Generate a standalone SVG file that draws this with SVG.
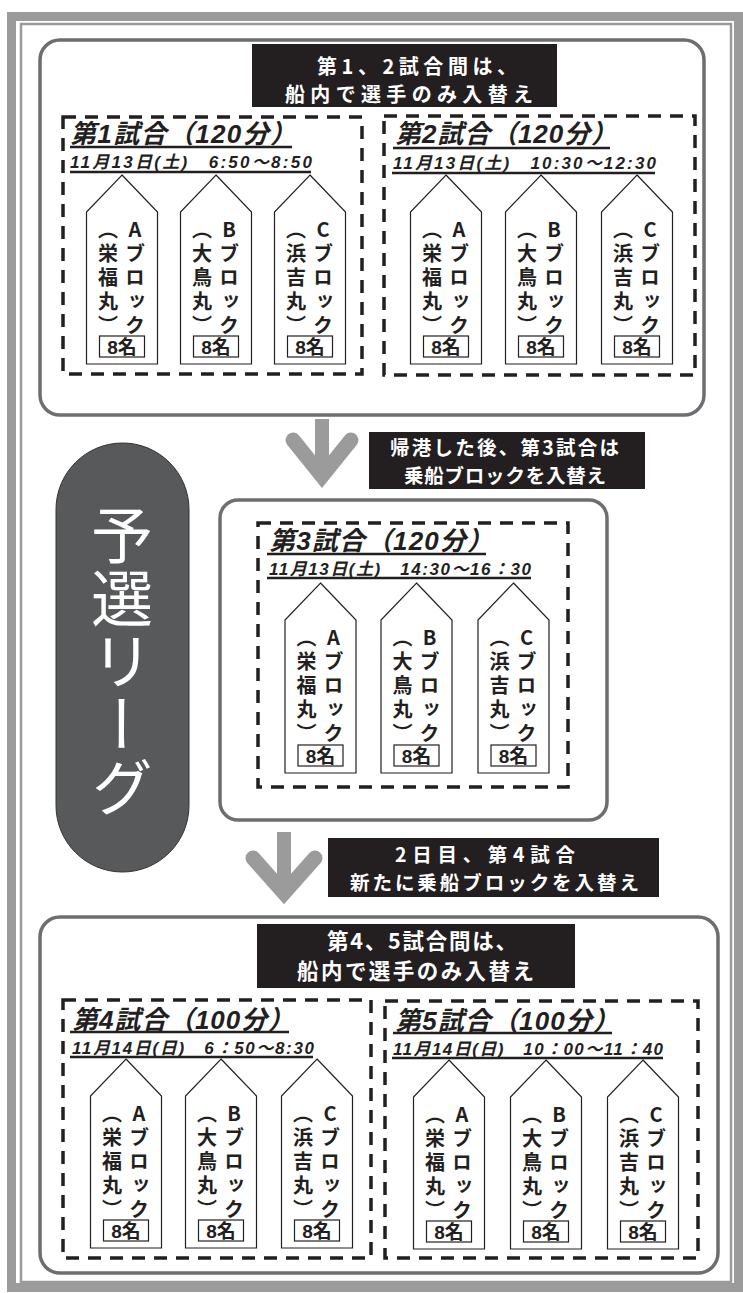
<svg xmlns="http://www.w3.org/2000/svg" width="743" height="1293" viewBox="0 0 743 1293">
<style>
.fr1{fill:none;stroke:#9b9b9b;stroke-width:9}
.fr2{fill:none;stroke:#9b9b9b;stroke-width:2.5}
.panel{fill:#fff;stroke:#6d6e71;stroke-width:3.5}
.lbl{fill:#231f20}
.lt{fill:#fff;font-family:"Noto Sans CJK JP",sans-serif;font-weight:700}
.game{fill:none;stroke:#231f20;stroke-width:3.5;stroke-dasharray:13 9}
.ttl{fill:#231f20;font-family:"Liberation Sans","Noto Sans CJK JP",sans-serif;font-weight:700;font-style:italic;font-size:26px}
.dt{fill:#231f20;font-family:"Liberation Sans","Noto Sans CJK JP",sans-serif;font-weight:700;font-style:italic;font-size:17px}
.ul{stroke:#231f20;stroke-width:2.4}
.sh{fill:#fff;stroke:#231f20;stroke-width:1.2}
.col{fill:#231f20;font-family:"Noto Sans CJK JP",sans-serif;font-weight:700;font-size:20px;writing-mode:vertical-rl;text-orientation:upright;letter-spacing:4px}
.cb{fill:#fff;stroke:#231f20;stroke-width:1.2}
.cn{fill:#231f20;font-family:"Liberation Sans","Noto Sans CJK JP",sans-serif;font-weight:700;font-size:19px;text-anchor:middle}
.arr{fill:none;stroke:#9b9b9b;stroke-width:15;stroke-linejoin:miter;stroke-linecap:round}
.stem{fill:none;stroke:#9b9b9b;stroke-width:14;stroke-linecap:butt}
</style>
<rect width="743" height="1293" fill="#fff"/>
<g id="frame">
<rect class="fr1" x="11.5" y="16.5" width="727" height="1271"/>
<rect class="fr2" x="21" y="24" width="710" height="1258"/>
</g>
<g id="pill">
<rect x="56" y="443" width="133" height="429" rx="66.5" fill="#58595b" stroke="#333" stroke-width="1"/>
<text x="122" y="504" fill="#fff" font-family="Noto Sans CJK JP, sans-serif" font-size="62" letter-spacing="1" style="writing-mode:vertical-rl">予選リーグ</text>
</g>
<g id="panel-day1">
<rect class="panel" x="40" y="40" width="664" height="375" rx="20"/>
</g>
<g id="panel-game3">
<rect class="panel" x="220" y="500" width="387" height="320" rx="18"/>
</g>
<g id="panel-day2">
<rect class="panel" x="40" y="917" width="678" height="356" rx="20"/>
</g>
<g id="connectors">
<g id="arrow-1"><path class="stem" d="M322 419 V478"/><path class="arr" d="M293 440 L322 476 L351 440"/></g>
<g id="arrow-2"><path class="stem" d="M284 832 V895"/><path class="arr" d="M253 858 L284 893 L315 858"/></g>
</g>
<g id="label-1">
<rect class="lbl" x="252" y="44" width="305" height="63"/>
<text class="lt" x="317" y="73.5" font-size="20" textLength="200">第1、2試合間は、</text>
<text class="lt" x="285" y="101.5" font-size="20" textLength="248">船内で選手のみ入替え</text>
</g>
<g id="label-2">
<rect class="lbl" x="369" y="432" width="276" height="57"/>
<text class="lt" x="390" y="455" font-size="19.5" textLength="229">帰港した後、第3試合は</text>
<text class="lt" x="404" y="482.5" font-size="19.5" textLength="202">乗船ブロックを入替え</text>
</g>
<g id="label-3">
<rect class="lbl" x="328" y="838" width="331" height="59"/>
<text class="lt" x="395" y="862" font-size="19.5" textLength="180">2日目、第4試合</text>
<text class="lt" x="350" y="889.5" font-size="19.5" textLength="289">新たに乗船ブロックを入替え</text>
</g>
<g id="label-4">
<rect class="lbl" x="257" y="924" width="318" height="64"/>
<text class="lt" x="327" y="948.5" font-size="21.5" textLength="190">第4、5試合間は、</text>
<text class="lt" x="297" y="979" font-size="21.5" textLength="237">船内で選手のみ入替え</text>
</g>
<g id="game-1">
<rect class="game" x="63" y="117" width="299" height="257"/>
<text class="ttl" x="70" y="143" textLength="226">第1試合（120分）</text>
<line class="ul" x1="70" y1="147" x2="292" y2="147"/>
<text class="dt" x="70" y="168" textLength="242">11月13日(土)　6:50〜8:50</text>
<line class="ul" x1="70" y1="172" x2="311" y2="172"/>
<g id="g1-a"><polygon class="sh" points="122,175 157.5,212 157.5,364 86.5,364 86.5,212"/><text class="col" x="135" y="219">Aブロック</text><text class="col" x="108" y="219">（栄福丸）</text><rect class="cb" x="99.5" y="336" width="45" height="21"/><text class="cn" x="122" y="353.5">8名</text></g>
<g id="g1-b"><polygon class="sh" points="216,175 251.5,212 251.5,364 180.5,364 180.5,212"/><text class="col" x="229" y="219">Bブロック</text><text class="col" x="202" y="219">（大鳥丸）</text><rect class="cb" x="193.5" y="336" width="45" height="21"/><text class="cn" x="216" y="353.5">8名</text></g>
<g id="g1-c"><polygon class="sh" points="310,175 345.5,212 345.5,364 274.5,364 274.5,212"/><text class="col" x="323" y="219">Cブロック</text><text class="col" x="296" y="219">（浜吉丸）</text><rect class="cb" x="287.5" y="336" width="45" height="21"/><text class="cn" x="310" y="353.5">8名</text></g>
</g>
<g id="game-2">
<rect class="game" x="384" y="116" width="311" height="259"/>
<text class="ttl" x="395" y="143" textLength="222">第2試合（120分）</text>
<line class="ul" x1="393" y1="148" x2="610" y2="148"/>
<text class="dt" x="393" y="169" textLength="263">11月13日(土)　10:30〜12:30</text>
<line class="ul" x1="392" y1="173" x2="655" y2="173"/>
<g id="g2-a"><polygon class="sh" points="446,175 481.5,212 481.5,364 410.5,364 410.5,212"/><text class="col" x="459" y="219">Aブロック</text><text class="col" x="432" y="219">（栄福丸）</text><rect class="cb" x="423.5" y="336" width="45" height="21"/><text class="cn" x="446" y="353.5">8名</text></g>
<g id="g2-b"><polygon class="sh" points="541,175 576.5,212 576.5,364 505.5,364 505.5,212"/><text class="col" x="554" y="219">Bブロック</text><text class="col" x="527" y="219">（大鳥丸）</text><rect class="cb" x="518.5" y="336" width="45" height="21"/><text class="cn" x="541" y="353.5">8名</text></g>
<g id="g2-c"><polygon class="sh" points="637,175 672.5,212 672.5,364 601.5,364 601.5,212"/><text class="col" x="650" y="219">Cブロック</text><text class="col" x="623" y="219">（浜吉丸）</text><rect class="cb" x="614.5" y="336" width="45" height="21"/><text class="cn" x="637" y="353.5">8名</text></g>
</g>
<g id="game-3">
<rect class="game" x="258" y="523" width="310" height="264"/>
<text class="ttl" x="269" y="550" textLength="224">第3試合（120分）</text>
<line class="ul" x1="267" y1="554" x2="486" y2="554"/>
<text class="dt" x="269" y="575" textLength="262">11月13日(土)　14:30〜16：30</text>
<line class="ul" x1="267" y1="578" x2="531" y2="578"/>
<g id="g3-a"><polygon class="sh" points="320.5,583 356,620 356,773 285,773 285,620"/><text class="col" x="333.5" y="627">Aブロック</text><text class="col" x="306.5" y="627">（栄福丸）</text><rect class="cb" x="298" y="745" width="45" height="21"/><text class="cn" x="320.5" y="762.5">8名</text></g>
<g id="g3-b"><polygon class="sh" points="416.5,583 452,620 452,773 381,773 381,620"/><text class="col" x="429.5" y="627">Bブロック</text><text class="col" x="402.5" y="627">（大鳥丸）</text><rect class="cb" x="394" y="745" width="45" height="21"/><text class="cn" x="416.5" y="762.5">8名</text></g>
<g id="g3-c"><polygon class="sh" points="513.5,583 549,620 549,773 478,773 478,620"/><text class="col" x="526.5" y="627">Cブロック</text><text class="col" x="499.5" y="627">（浜吉丸）</text><rect class="cb" x="491" y="745" width="45" height="21"/><text class="cn" x="513.5" y="762.5">8名</text></g>
</g>
<g id="game-4">
<rect class="game" x="63" y="1000" width="308" height="258"/>
<text class="ttl" x="72" y="1029" textLength="222">第4試合（100分）</text>
<line class="ul" x1="70" y1="1032" x2="289" y2="1032"/>
<text class="dt" x="72" y="1054" textLength="242">11月14日(日)　6：50〜8:30</text>
<line class="ul" x1="70" y1="1057" x2="313" y2="1057"/>
<g id="g4-a"><polygon class="sh" points="126,1059 161.5,1096 161.5,1248 90.5,1248 90.5,1096"/><text class="col" x="139" y="1103">Aブロック</text><text class="col" x="112" y="1103">（栄福丸）</text><rect class="cb" x="103.5" y="1220" width="45" height="21"/><text class="cn" x="126" y="1237.5">8名</text></g>
<g id="g4-b"><polygon class="sh" points="221,1059 256.5,1096 256.5,1248 185.5,1248 185.5,1096"/><text class="col" x="234" y="1103">Bブロック</text><text class="col" x="207" y="1103">（大鳥丸）</text><rect class="cb" x="198.5" y="1220" width="45" height="21"/><text class="cn" x="221" y="1237.5">8名</text></g>
<g id="g4-c"><polygon class="sh" points="317,1059 352.5,1096 352.5,1248 281.5,1248 281.5,1096"/><text class="col" x="330" y="1103">Cブロック</text><text class="col" x="303" y="1103">（浜吉丸）</text><rect class="cb" x="294.5" y="1220" width="45" height="21"/><text class="cn" x="317" y="1237.5">8名</text></g>
</g>
<g id="game-5">
<rect class="game" x="385" y="1001" width="313" height="257"/>
<text class="ttl" x="395" y="1030" textLength="224">第5試合（100分）</text>
<line class="ul" x1="393" y1="1033" x2="612" y2="1033"/>
<text class="dt" x="393" y="1055" textLength="270">11月14日(日)　10：00〜11：40</text>
<line class="ul" x1="392" y1="1058" x2="663" y2="1058"/>
<g id="g5-a"><polygon class="sh" points="449,1060 484.5,1097 484.5,1249 413.5,1249 413.5,1097"/><text class="col" x="462" y="1104">Aブロック</text><text class="col" x="435" y="1104">（栄福丸）</text><rect class="cb" x="426.5" y="1221" width="45" height="21"/><text class="cn" x="449" y="1238.5">8名</text></g>
<g id="g5-b"><polygon class="sh" points="546,1060 581.5,1097 581.5,1249 510.5,1249 510.5,1097"/><text class="col" x="559" y="1104">Bブロック</text><text class="col" x="532" y="1104">（大鳥丸）</text><rect class="cb" x="523.5" y="1221" width="45" height="21"/><text class="cn" x="546" y="1238.5">8名</text></g>
<g id="g5-c"><polygon class="sh" points="643,1060 678.5,1097 678.5,1249 607.5,1249 607.5,1097"/><text class="col" x="656" y="1104">Cブロック</text><text class="col" x="629" y="1104">（浜吉丸）</text><rect class="cb" x="620.5" y="1221" width="45" height="21"/><text class="cn" x="643" y="1238.5">8名</text></g>
</g>
</svg>
